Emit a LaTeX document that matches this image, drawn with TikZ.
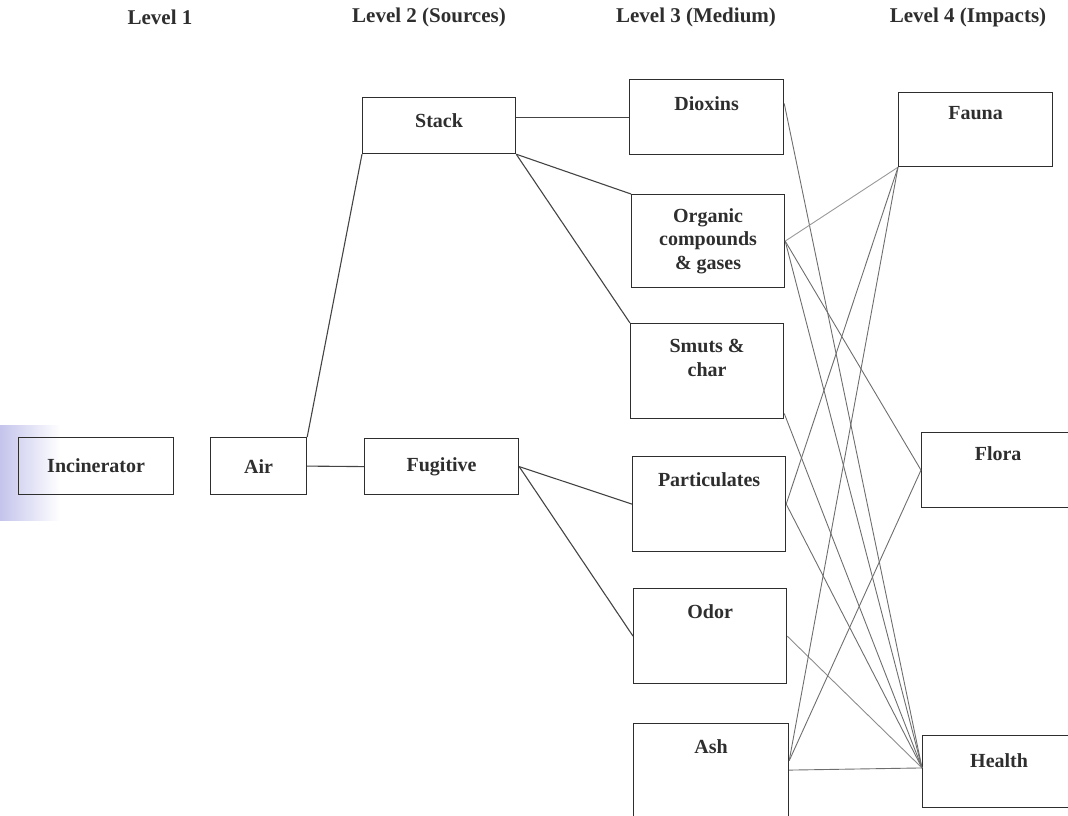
\documentclass[tikz,border=0pt]{standalone}
\usepackage{fontspec}
\setmainfont{Liberation Serif}
\usetikzlibrary{calc}
\definecolor{inkc}{HTML}{2E2E2E}
\definecolor{linec}{HTML}{444444}
\definecolor{thinc}{HTML}{6E6E6E}
\definecolor{scanv}{RGB}{196,196,236}
\begin{document}
\begin{tikzpicture}[x=1pt,y=-1pt,
  box/.style={draw=inkc, line width=1.2pt, anchor=north west, inner sep=0pt,
    font=\fontsize{20}{23.5}\selectfont\bfseries, text=inkc, align=center},
  lbl/.style={anchor=north, yshift=-16pt, inner sep=0pt, align=center,
    font=\fontsize{20}{23.5}\selectfont\bfseries, text=inkc},
  hdr/.style={font=\fontsize{21}{24}\selectfont\bfseries, text=inkc, inner sep=0pt},
  link/.style={draw=linec, line width=1.1pt},
  thinlink/.style={draw=thinc, line width=0.9pt}]

\useasboundingbox (0,0) rectangle (1068,816);

% scan tint at the left
\fill[left color=scanv, right color=white] (0,425) rectangle (60,520);

% headers
\node[hdr] (h1) at (160,17) {Level 1};
\node[hdr] (h2) at (429,17) {Level 2 (Sources)};
\node[hdr] (h3) at (696,17) {Level 3 (Medium)};
\node[hdr] (h4) at (968,17) {Level 4 (Impacts)};

% level 1 and 2
\node[box, minimum width=155pt, minimum height=57pt] (incin) at (18,437) {Incinerator};
\node[box, minimum width=96pt, minimum height=57pt] (air) at (210,437) {Air};
\node[box, minimum width=153pt, minimum height=56pt,
  label={[lbl]north:Stack}] (stack) at (362,97) {};
\node[box, minimum width=154pt, minimum height=56pt] (fug) at (364,438) {Fugitive};

% level 3
\node[box, minimum width=154pt, minimum height=75pt,
  label={[lbl, yshift=-1pt]north:Dioxins}] (diox) at (629,79) {};
\node[box, minimum width=153pt, minimum height=93pt,
  label={[lbl, yshift=2pt]north:Organic\\compounds\\\& gases}] (organic) at (631,194) {};
\node[box, minimum width=153pt, minimum height=95pt,
  label={[lbl]north:Smuts \&\\char}] (smuts) at (630,323) {};
\node[box, minimum width=153pt, minimum height=95pt,
  label={[lbl]north:Particulates}] (partic) at (632,456) {};
\node[box, minimum width=153pt, minimum height=95pt,
  label={[lbl]north:Odor}] (odor) at (633,588) {};
\node[box, minimum width=155pt, minimum height=93pt,
  label={[lbl]north:Ash}] (ash) at (633,723) {};

% level 4
\node[box, minimum width=154pt, minimum height=74pt,
  label={[lbl, yshift=2pt]north:Fauna}] (fauna) at (898,92) {};
\node[box, minimum width=153pt, minimum height=75pt,
  label={[lbl, yshift=2pt]north:Flora}] (flora) at (921,432) {};
\node[box, minimum width=153pt, minimum height=72pt,
  label={[lbl, yshift=-2pt]north:Health}] (health) at (922,735) {};

% connection points
\coordinate (hp) at ($(health.north west)!0.45!(health.south west)$);
\coordinate (dp) at ($(diox.north east)!0.32!(diox.south east)$);
\coordinate (sp) at ($(smuts.north east)!0.94!(smuts.south east)$);
\coordinate (ap) at ($(ash.north east)!0.4!(ash.south east)$);

% level 1-3 connectors
\draw[link] (air.east) -- (fug.west);
\draw[link] (air.north east) -- (stack.south west);
\draw[link] (diox.west -| stack.east) -- (diox.west);
\draw[link] (stack.south east) -- (organic.north west);
\draw[link] (stack.south east) -- (smuts.north west);
\draw[link] (fug.east) -- (partic.west);
\draw[link] (fug.east) -- (odor.west);

% level 3-4 connectors
\draw[thinlink] (dp) -- (hp);
\draw[thinlink, draw=black!40] (organic.east) -- (fauna.south west);
\draw[thinlink] (organic.east) -- (flora.west);
\draw[thinlink] (organic.east) -- (hp);
\draw[thinlink] (sp) -- (hp);
\draw[thinlink] (partic.east) -- (fauna.south west);
\draw[thinlink] (partic.east) -- (hp);
\draw[thinlink, draw=black!45] (odor.east) -- (hp);
\draw[thinlink] (ap) -- (fauna.south west);
\draw[thinlink] (ap) -- (flora.west);
\draw[thinlink] (ash.east) -- (hp);
\end{tikzpicture}
\end{document}
